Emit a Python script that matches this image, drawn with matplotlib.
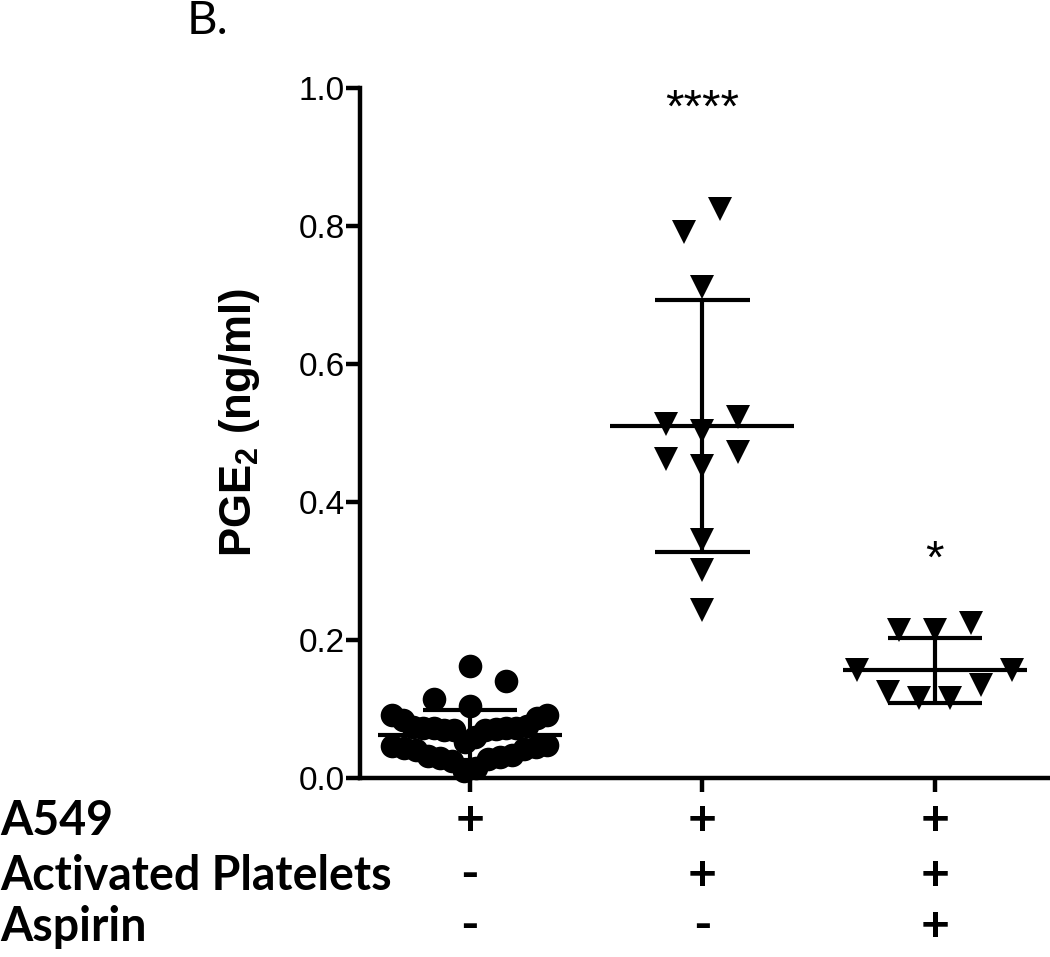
import numpy as np
import matplotlib
matplotlib.use("Agg")
import matplotlib.pyplot as plt
from matplotlib import transforms

plt.rcParams['font.family'] = ['Liberation Sans', 'DejaVu Sans']
plt.rcParams['mathtext.fontset'] = 'custom'
plt.rcParams['mathtext.rm'] = 'Liberation Sans'
plt.rcParams['mathtext.bf'] = 'Liberation Sans:bold'

# PGE2 (ng/ml), one list per group
a549_only = [0.162, 0.140, 0.114, 0.104, 0.092, 0.091, 0.087, 0.084,
             0.075, 0.074, 0.073, 0.073, 0.072, 0.072, 0.071, 0.070, 0.070, 0.069,
             0.060, 0.052, 0.048, 0.046, 0.045, 0.044, 0.042, 0.040,
             0.034, 0.032, 0.030, 0.029, 0.027, 0.025, 0.014, 0.010]
a549_plt = [0.824, 0.792, 0.712, 0.523, 0.513, 0.503, 0.472, 0.462, 0.452,
            0.345, 0.302, 0.243]
a549_plt_asa = [0.225, 0.214, 0.214, 0.156, 0.156, 0.135, 0.125, 0.116, 0.116]

means = [0.062, 0.510, 0.156]
sds = [0.036, 0.183, 0.047]
stars = ['', '****', '*']

conditions = ['A549', 'Activated Platelets', 'Aspirin']
signs = [['+', '+', '+'],
         ['-', '+', '+'],
         ['-', '-', '+']]

groups = [a549_only, a549_plt, a549_plt_asa]
markers = ['o', 'v', 'v']


def spread(vals, thresh=0.041, step=0.155, maxw=0.667):
    """rows of similar values spread sideways, lowest in the middle"""
    vals = np.asarray(vals)
    order = np.argsort(vals, kind='stable')
    rows, cur = [], []
    for i in order:
        if cur and vals[i] - vals[cur[0]] > thresh:
            rows.append(cur)
            cur = []
        cur.append(i)
    rows.append(cur)
    off = np.zeros(len(vals))
    for row in rows:
        n = len(row)
        s = min(step, maxw / (n - 1)) if n > 1 else 0
        slots = [(k - (n - 1) / 2) * s for k in range(n)]
        slots.sort(key=lambda p: (round(abs(p), 6), p))
        for i, p in zip(row, slots):
            off[i] = p
    return off


fig = plt.figure(figsize=(10.5, 9.57), dpi=100)
ax = fig.add_axes([0.3429, 0.187, 0.655, 0.721])

for g, (vals, m) in enumerate(zip(groups, markers)):
    x = g + spread(vals)
    ax.plot(x, vals, m, color='black', ms=17, mew=0, zorder=3, clip_on=False)
    mu, sd = means[g], sds[g]
    ax.hlines(mu, g - 0.396, g + 0.396, color='black', lw=3, zorder=4)
    ax.hlines([mu - sd, mu + sd], g - 0.203, g + 0.203, color='black', lw=3, zorder=4)
    ax.vlines(g, mu - sd, mu + sd, color='black', lw=3, zorder=4)
    if stars[g]:
        ax.text(g, mu + sd + [0, 0.258, 0.094][g], stars[g], ha='center', va='baseline',
                fontsize=34)

ax.set_xlim(-0.473, 2.486)
ax.set_ylim(0, 1.0)
ax.set_yticks(np.arange(0, 1.01, 0.2))
ax.set_yticklabels(['%.1f' % t for t in np.arange(0, 1.01, 0.2)])
ax.set_xticks([0, 1, 2])
ax.set_xticklabels([])
for s in ['top', 'right']:
    ax.spines[s].set_visible(False)
for s in ['left', 'bottom']:
    ax.spines[s].set_linewidth(3.2)
ax.tick_params(axis='both', width=3.2, length=10, labelsize=24, pad=1)
ax.set_ylabel('PGE$_\\mathbf{2}$ (ng/ml)', fontsize=31.5, fontweight='bold')
ax.yaxis.set_label_coords(-0.143, 0.515)

# condition table under the axis
trans = transforms.blended_transform_factory(ax.transData, fig.transFigure)
row_y = [1 - 835 / 957, 1 - 890 / 957, 1 - 941 / 957]
for r, (name, yy) in enumerate(zip(conditions, row_y)):
    fig.text(0.0, yy, name, fontsize=33.5, fontweight='bold', family=['Lato', 'DejaVu Sans'],
             va='baseline', ha='left')
    for g in range(3):
        ax.text(g, yy, signs[r][g], transform=trans, fontsize=36, fontweight='bold',
                family=['Lato', 'DejaVu Sans'], va='baseline', ha='center')

fig.text(187 / 1050, 1 - 34 / 957, 'B.', fontsize=34, family=['Lato', 'DejaVu Sans'],
         va='baseline', ha='left')

fig.savefig('out.png', dpi=100)
